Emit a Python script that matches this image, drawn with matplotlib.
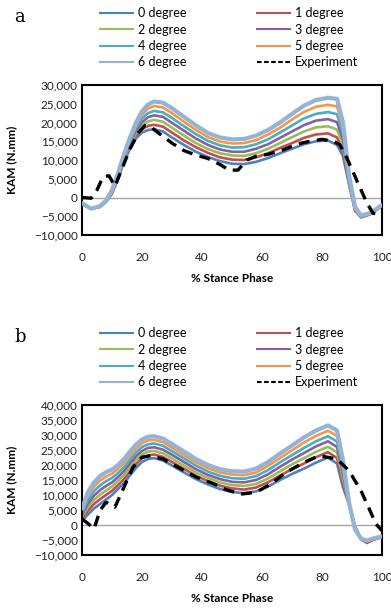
import numpy as np
import matplotlib
matplotlib.use('Agg')
from matplotlib import pyplot as plt
from matplotlib.lines import Line2D
from matplotlib.ticker import StrMethodFormatter

# ---- panel a : KAM (x1000 N.mm) vs % stance ----
xa = [0, 3, 6, 8, 10, 12, 14, 16, 18, 20, 22, 24, 27, 30, 34, 38, 42, 46, 50,
      54, 58, 62, 66, 70, 74, 78, 82, 85, 87, 89, 91, 93, 96, 100]
a_deg0 = [-1.5, -3.0, -2.5, -1.2, 1.0, 5.0, 9.5, 13.0, 15.8, 17.3, 18.0, 18.2, 17.6, 16.0,
          14.0, 12.2, 10.8, 9.7, 9.0, 8.9, 9.5, 10.5, 11.8, 13.0, 14.2, 15.0, 15.2, 14.0,
          11.0, 3.5, -3.5, -5.3, -4.5, -2.3]
a_deg1 = [-1.5, -3.0, -2.5, -1.1, 1.2, 5.2, 9.8, 13.5, 16.5, 18.2, 19.1, 19.4, 18.9, 17.3,
          15.2, 13.4, 11.9, 10.7, 10.1, 10.0, 10.7, 11.8, 13.2, 14.5, 15.9, 16.8, 17.1, 16.0,
          12.5, 4.0, -3.3, -5.2, -4.5, -2.3]
a_deg2 = [-1.5, -3.0, -2.4, -1.1, 1.3, 5.5, 10.2, 14.0, 17.2, 19.2, 20.3, 20.7, 20.2, 18.6,
          16.5, 14.5, 12.9, 11.8, 11.2, 11.1, 11.8, 13.0, 14.5, 16.1, 17.6, 18.7, 19.0, 18.1,
          14.0, 4.3, -3.2, -5.1, -4.4, -2.2]
a_deg3 = [-1.5, -3.0, -2.4, -1.0, 1.5, 5.7, 10.5, 14.5, 17.9, 20.1, 21.4, 21.9, 21.5, 19.9,
          17.8, 15.7, 14.0, 12.8, 12.2, 12.2, 13.0, 14.2, 15.9, 17.6, 19.3, 20.5, 20.9, 20.1,
          15.5, 4.8, -3.0, -5.0, -4.3, -2.2]
a_deg4 = [-1.5, -3.0, -2.4, -0.9, 1.7, 6.0, 10.8, 15.0, 18.6, 21.1, 22.5, 23.1, 22.7, 21.2,
          19.0, 16.9, 15.1, 13.9, 13.3, 13.4, 14.2, 15.5, 17.3, 19.2, 21.1, 22.3, 22.8, 22.2,
          17.0, 5.2, -2.8, -4.9, -4.3, -2.1]
a_deg5 = [-1.5, -3.0, -2.3, -0.9, 1.8, 6.2, 11.2, 15.5, 19.3, 22.1, 23.7, 24.4, 24.0, 22.5,
          20.2, 18.0, 16.1, 14.9, 14.4, 14.5, 15.3, 16.8, 18.6, 20.8, 22.8, 24.2, 24.7, 24.3,
          18.5, 5.6, -2.7, -4.9, -4.2, -2.1]
a_deg6 = [-1.5, -3.0, -2.3, -0.8, 2.0, 6.5, 11.5, 16.0, 20.0, 23.0, 24.8, 25.6, 25.3, 23.8,
          21.5, 19.2, 17.2, 16.0, 15.5, 15.6, 16.5, 18.0, 20.0, 22.3, 24.5, 26.0, 26.6, 26.3,
          20.0, 6.0, -2.5, -4.8, -4.2, -2.0]
xa_exp = [0, 3, 5, 7, 9, 11, 13, 16, 19, 21, 23, 25, 30, 34, 38, 42, 46, 49, 52, 55,
          58, 62, 67, 72, 76, 80, 84, 86, 88, 90, 92, 95, 97, 100]
a_exp = [0, -0.2, 2.0, 5.5, 5.8, 3.0, 7.0, 13.0, 17.5, 19.2, 18.8, 17.5, 14.5, 12.5,
         11.3, 10.4, 8.8, 7.3, 7.3, 10.0, 11.0, 11.5, 12.7, 14.3, 15.0, 15.5, 15.0, 14.0,
         11.0, 7.5, 3.8, -1.5, -4.2, -4.5]

# ---- panel b ----
xb = [0, 2, 4, 6, 8, 10, 12, 14, 16, 18, 20, 22, 24, 27, 30, 34, 38, 42, 46, 50,
      54, 58, 62, 66, 70, 74, 78, 82, 85, 87, 89, 91, 93, 95, 97, 100]
b_deg0 = [1.5, 3.5, 5.5, 7.0, 8.5, 10.0, 12.0, 14.0, 16.5, 19.0, 21.0, 22.0, 22.3, 21.5,
          19.8, 17.5, 15.3, 13.5, 12.0, 11.0, 10.6, 11.2, 12.8, 15.0, 17.0, 18.8, 20.8,
          22.5, 20.5, 12.5, 7.0, -0.5, -4.5, -5.5, -4.8, -4.0]
b_deg1 = [2.2, 4.8, 7.0, 8.6, 10.0, 11.4, 13.3, 15.3, 17.8, 20.3, 22.3, 23.2, 23.5, 22.7,
          21.0, 18.7, 16.4, 14.6, 13.1, 12.2, 11.8, 12.5, 14.2, 16.5, 18.6, 20.5, 22.6,
          24.3, 22.3, 14.0, 7.0, -0.7, -4.8, -6.0, -5.0, -4.0]
b_deg2 = [2.8, 6.0, 8.4, 10.1, 11.5, 12.8, 14.7, 16.7, 19.2, 21.6, 23.5, 24.5, 24.7, 23.9,
          22.2, 19.8, 17.5, 15.7, 14.2, 13.3, 13.0, 13.7, 15.5, 17.9, 20.2, 22.3, 24.4,
          26.1, 24.2, 15.5, 7.2, -0.8, -4.5, -5.5, -4.7, -3.9]
b_deg3 = [3.5, 7.2, 9.8, 11.6, 13.0, 14.2, 16.0, 18.0, 20.5, 22.9, 24.7, 25.7, 25.9, 25.1,
          23.4, 21.0, 18.6, 16.7, 15.3, 14.4, 14.2, 15.0, 16.9, 19.4, 21.8, 24.0, 26.2,
          27.9, 26.0, 17.0, 7.2, -1.0, -4.5, -5.4, -4.6, -3.9]
b_deg4 = [4.2, 8.5, 11.3, 13.2, 14.6, 15.7, 17.3, 19.3, 21.8, 24.2, 26.0, 26.9, 27.2, 26.4,
          24.6, 22.2, 19.8, 17.8, 16.4, 15.6, 15.4, 16.3, 18.3, 20.9, 23.3, 25.7, 27.9,
          29.6, 27.8, 18.5, 7.3, -1.2, -4.5, -5.3, -4.6, -3.9]
b_deg5 = [4.8, 9.8, 12.8, 14.8, 16.1, 17.1, 18.7, 20.7, 23.2, 25.5, 27.3, 28.2, 28.4, 27.6,
          25.8, 23.3, 20.9, 18.9, 17.5, 16.8, 16.6, 17.5, 19.7, 22.3, 24.9, 27.5, 29.7,
          31.4, 29.7, 20.0, 7.4, -1.3, -4.5, -5.2, -4.5, -3.8]
b_deg6 = [5.5, 11.0, 14.2, 16.3, 17.6, 18.5, 20.0, 22.0, 24.5, 26.8, 28.5, 29.4, 29.6, 28.8,
          27.0, 24.5, 22.0, 20.0, 18.6, 17.9, 17.8, 18.8, 21.0, 23.8, 26.5, 29.2, 31.5,
          33.2, 31.5, 21.5, 7.5, -1.5, -4.5, -5.2, -4.5, -3.8]
xb_exp = [0, 2, 4, 6, 8, 11, 14, 17, 20, 23, 27, 33, 38, 44, 48, 53, 58, 63, 68, 74,
          79, 85, 89, 93, 96, 98, 100]
b_exp = [2.0, 0.5, -1.3, 4.8, 7.6, 6.0, 12.6, 19.3, 22.6, 23.1, 22.0, 18.7, 16.0, 13.7,
         11.8, 10.3, 10.9, 13.7, 17.5, 20.9, 23.1, 22.0, 18.1, 11.4, 4.8, 0.3, -1.9]

labels = ['0 degree', '1 degree', '2 degree', '3 degree', '4 degree', '5 degree', '6 degree']
colors = ['#4F81BD', '#C0504D', '#9BBB59', '#8064A2', '#4BACC6', '#F79646', '#95B3D7']

plt.rcParams['font.family'] = ['Lato', 'DejaVu Sans']

fig = plt.figure(figsize=(3.91, 6.09), dpi=100)
W, H = 391, 609


def draw_panel(rect, x, series, xe, exp, ylim, yticks, letter, leg_top):
    ax = fig.add_axes(rect)
    ax.axhline(0, color='#A6A6A6', lw=1.0, zorder=1)
    for i, s in enumerate(series):
        lw = 3.0 if i == 6 else 1.9
        ax.plot(x, np.array(s) * 1000, color=colors[i], lw=lw,
                solid_capstyle='round', zorder=2 + i * 0.1)
    ax.plot(xe, np.array(exp) * 1000, color='black', lw=2.4, ls=(0, (3.3, 2.2)), zorder=4)
    ax.set_xlim(0, 100)
    ax.set_ylim(*ylim)
    ax.set_xticks([0, 20, 40, 60, 80, 100])
    ax.set_yticks(yticks)
    ax.yaxis.set_major_formatter(StrMethodFormatter('{x:,.0f}'))
    ax.tick_params(length=0, labelsize=8.5, colors='#222222')
    ax.tick_params(axis='x', pad=12)
    ax.tick_params(axis='y', pad=3)
    for sp in ax.spines.values():
        sp.set_color('black')
        sp.set_linewidth(1.5)
    ax.set_xlabel('% Stance Phase', fontsize=8.5, fontweight='bold', va='center')
    ax.set_ylabel('KAM (N.mm)', fontsize=8.5, fontweight='bold', va='center')
    ax.xaxis.set_label_coords(0.5, -44 / 150)
    ax.yaxis.set_label_coords(-70 / 300, 0.5)

    # legend, Excel-style: two columns, thin handles
    hs = [Line2D([], [], color=colors[i], lw=1.5) for i in range(7)]
    he = Line2D([], [], color='black', lw=1.5, ls=(0, (2.2, 1.2)))
    order = [hs[0], hs[2], hs[4], hs[6], hs[1], hs[3], hs[5], he]
    names = [labels[0], labels[2], labels[4], labels[6],
             labels[1], labels[3], labels[5], 'Experiment']
    fig.legend(order, names, loc='upper left',
               bbox_to_anchor=(100 / W, leg_top), ncol=2, frameon=False,
               fontsize=9, handlelength=2.64, handletextpad=0.4,
               columnspacing=5.6, labelspacing=0.36, borderpad=0, borderaxespad=0)
    fig.text(14 / W, leg_top - 10 / H, letter, fontsize=13,
             family='DejaVu Serif', va='center')
    return ax


draw_panel([82 / W, 1 - 235 / H, 300 / W, 150 / H],
           xa, [a_deg0, a_deg1, a_deg2, a_deg3, a_deg4, a_deg5, a_deg6],
           xa_exp, a_exp, (-10000, 30000), range(-10000, 30001, 5000), 'a',
           1 - 7 / H)
draw_panel([82 / W, 1 - 555 / H, 300 / W, 150 / H],
           xb, [b_deg0, b_deg1, b_deg2, b_deg3, b_deg4, b_deg5, b_deg6],
           xb_exp, b_exp, (-10000, 40000), range(-10000, 40001, 5000), 'b',
           1 - 327 / H)

fig.savefig('out.png', dpi=100)
